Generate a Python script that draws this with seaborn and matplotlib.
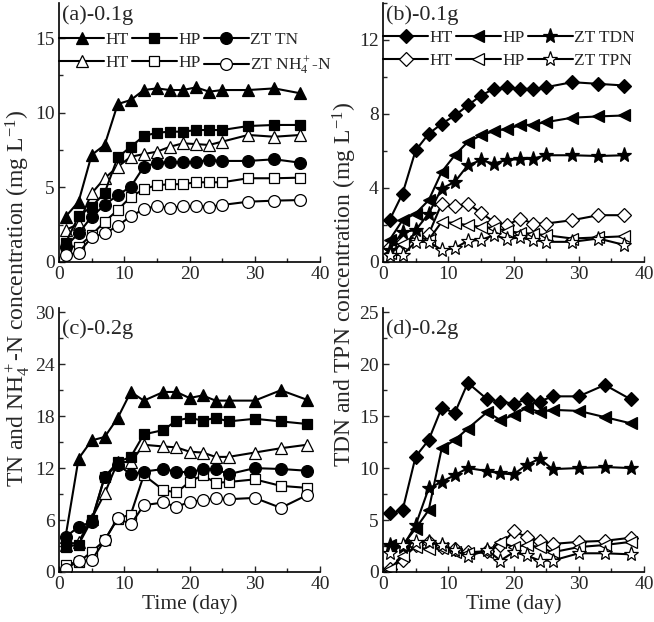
import numpy as np
import pandas as pd
import matplotlib
matplotlib.use("Agg")
import matplotlib.pyplot as plt
import seaborn as sns
from matplotlib.ticker import MultipleLocator

# ---------------- data ----------------
days_top = [1, 3, 5, 7, 9, 11, 13, 15, 17, 19, 21, 23, 25, 29, 33, 37]
days_bot = [1, 3, 5, 7, 9, 11, 13, 16, 18, 20, 22, 24, 26, 30, 34, 38]

# (a) 0.1 g : TN (filled) and NH4+-N (open)
a_ht_tn = [3.03, 4.04, 7.17, 7.84, 10.58, 10.85, 11.52, 11.63, 11.52, 11.52, 11.70, 11.41, 11.52, 11.52, 11.63, 11.30]
a_hp_tn = [1.25, 3.08, 3.70, 4.64, 7.01, 7.72, 8.44, 8.66, 8.73, 8.73, 8.84, 8.84, 8.84, 9.11, 9.18, 9.18]
a_zt_tn = [1.03, 1.92, 3.03, 3.82, 4.49, 5.04, 6.38, 6.65, 6.68, 6.68, 6.72, 6.83, 6.77, 6.77, 6.88, 6.65]
a_ht_nh = [2.14, 2.55, 4.60, 5.61, 6.38, 7.05, 7.23, 7.39, 7.72, 7.95, 7.90, 7.84, 8.06, 8.51, 8.39, 8.51]
a_hp_nh = [1.03, 1.03, 1.81, 2.70, 3.48, 4.37, 4.87, 5.16, 5.20, 5.22, 5.34, 5.34, 5.34, 5.61, 5.61, 5.65]
a_zt_nh = [0.47, 0.62, 1.65, 1.92, 2.41, 3.08, 3.53, 3.77, 3.60, 3.75, 3.75, 3.70, 3.82, 4.04, 4.11, 4.15]

# (b) 0.1 g : TDN (filled) and TPN (open)
b_ht_tdn = [2.26, 3.70, 6.03, 6.93, 7.47, 7.92, 8.46, 9.00, 9.36, 9.45, 9.36, 9.36, 9.45, 9.72, 9.63, 9.54]
b_hp_tdn = [1.19, 2.26, 2.62, 3.34, 4.87, 5.77, 6.49, 6.84, 7.08, 7.20, 7.38, 7.43, 7.56, 7.80, 7.87, 7.92]
b_zt_tdn = [0.65, 1.63, 1.72, 2.62, 3.97, 4.33, 5.23, 5.50, 5.32, 5.53, 5.55, 5.59, 5.77, 5.77, 5.73, 5.77]
b_ht_tpn = [0.80, 1.10, 1.30, 1.50, 3.16, 3.02, 3.16, 2.66, 2.17, 1.99, 2.35, 2.08, 2.08, 2.26, 2.53, 2.53]
b_hp_tpn = [0.50, 1.00, 1.40, 1.20, 2.17, 2.11, 1.99, 1.90, 1.84, 1.69, 1.57, 1.53, 1.45, 1.27, 1.33, 1.39]
b_zt_tpn = [0.38, 0.38, 1.09, 1.09, 0.65, 0.74, 1.15, 1.19, 1.45, 1.24, 1.33, 1.19, 1.09, 1.09, 1.27, 0.92]

# (c) 0.2 g : TN (filled) and NH4+-N (open)
c_ht_tn = [4.05, 13.1, 15.2, 15.6, 17.8, 20.8, 19.8, 20.8, 20.8, 20.1, 20.4, 19.8, 19.8, 19.8, 21.0, 19.9]
c_hp_tn = [2.89, 3.17, 5.98, 11.0, 12.7, 13.3, 15.9, 16.4, 17.5, 17.8, 17.5, 17.8, 17.4, 17.7, 17.4, 17.1]
c_zt_tn = [4.05, 5.21, 5.79, 11.0, 12.4, 11.3, 11.6, 11.9, 11.6, 11.5, 11.9, 11.9, 11.3, 12.0, 11.9, 11.7]
c_ht_nh = [3.09, 3.47, 6.18, 9.07, 12.7, 12.7, 14.7, 14.5, 14.4, 13.9, 13.8, 13.3, 13.3, 13.8, 14.3, 14.7]
c_hp_nh = [0.86, 1.16, 2.31, 3.67, 6.18, 6.64, 11.2, 9.46, 9.19, 10.4, 11.2, 10.3, 10.4, 10.7, 9.95, 9.72]
c_zt_nh = [0.39, 1.24, 1.35, 3.67, 6.25, 5.49, 7.72, 8.03, 7.52, 8.10, 8.30, 8.50, 8.41, 8.56, 7.41, 8.88]

# (d) 0.2 g : TDN (filled) and TPN (open)
d_ht_tdn = [5.63, 5.95, 11.1, 12.7, 15.8, 15.3, 18.2, 16.6, 16.4, 16.2, 16.6, 16.4, 16.9, 16.9, 18.0, 16.6]
d_hp_tdn = [2.64, 2.57, 4.18, 5.95, 11.9, 12.7, 13.8, 15.4, 14.6, 15.1, 15.8, 15.4, 15.6, 15.5, 14.9, 14.3]
d_zt_tdn = [2.57, 2.41, 4.50, 8.04, 8.68, 9.32, 10.0, 9.71, 9.49, 9.39, 10.3, 10.9, 9.9, 10.0, 10.1, 10.0]
d_ht_tpn = [0.3, 1.2, 2.6, 2.9, 2.4, 2.2, 1.9, 2.0, 2.6, 3.9, 3.4, 3.0, 2.7, 2.9, 3.0, 3.3]
d_hp_tpn = [0.3, 1.5, 2.4, 2.2, 2.3, 1.9, 1.8, 1.9, 2.9, 2.4, 2.6, 2.4, 1.9, 2.4, 2.6, 2.9]
d_zt_tpn = [1.8, 2.6, 2.9, 2.9, 2.6, 2.1, 1.5, 2.1, 1.1, 1.9, 1.6, 1.1, 1.1, 1.8, 1.8, 1.7]

names_tn = ["HT", "HP", "ZT TN"]
names_nh = ["HT", "HP", "ZT NH$_4^+$-N"]
names_tdn = ["HT", "HP", "ZT TDN"]
names_tpn = ["HT", "HP", "ZT TPN"]

panel_titles = ["(a)-0.1g", "(b)-0.1g", "(c)-0.2g", "(d)-0.2g"]

# ---------------- style ----------------
sns.set_theme(style="ticks")
plt.rcParams["font.family"] = ["Liberation Serif", "DejaVu Serif"]
plt.rcParams["mathtext.fontset"] = "custom"
plt.rcParams["mathtext.rm"] = "Liberation Serif"
plt.rcParams["mathtext.it"] = "Liberation Serif:italic"
plt.rcParams["mathtext.bf"] = "Liberation Serif:bold"
plt.rcParams["axes.unicode_minus"] = True

fig = plt.figure(figsize=(6.54, 6.22), dpi=100)
W, H = 654, 622

def ax_at(x0, x1, ytop, ybot):
    return fig.add_axes([x0 / W, 1 - ybot / H, (x1 - x0) / W, (ybot - ytop) / H])

ax_a = ax_at(59, 320, 3, 262)
ax_b = ax_at(383, 644, 3, 262)
ax_c = ax_at(59, 320, 308, 572)
ax_d = ax_at(383, 644, 308, 572)

mk_tn = ["^", "s", "o"]
mk_tdn = ["D", "<", "*"]
ms_tn = [8.5, 7.5, 8.5]
ms_tdn = [7.5, 9, 11]


def draw(ax, days, filled, opened, markers, sizes, lab_f, lab_o):
    handles = []
    for i in range(3):
        for series, fc, lab in ((filled[i], "black", lab_f[i]), (opened[i], "white", lab_o[i])):
            df = pd.DataFrame({"day": days, "val": series})
            n0 = len(ax.lines)
            sns.lineplot(data=df, x="day", y="val", ax=ax, color="black",
                         marker=markers[i], markersize=sizes[i],
                         markerfacecolor=fc, markeredgecolor="black",
                         markeredgewidth=0.9, linewidth=1.5,
                         legend=False, errorbar=None, sort=False)
            ln = ax.lines[n0]
            ln.set_label(lab)
            handles.append(ln)
    return handles


def style(ax, ymax, ymajor, title, ty):
    ax.set_xlim(0, 40)
    ax.set_ylim(0, ymax)
    ax.xaxis.set_major_locator(MultipleLocator(10))
    ax.xaxis.set_minor_locator(MultipleLocator(5))
    ax.yaxis.set_major_locator(MultipleLocator(ymajor))
    ax.yaxis.set_minor_locator(MultipleLocator(ymajor / 2))
    ax.tick_params(which="both", direction="in", labelsize=14, width=1.0,
                   top=False, right=False, pad=3)
    ax.tick_params(which="major", length=4)
    ax.tick_params(which="minor", length=3)
    ax.set_xlabel("")
    ax.set_ylabel("")
    for s in ("top", "right"):
        ax.spines[s].set_visible(False)
    for s in ("left", "bottom"):
        ax.spines[s].set_linewidth(1.2)
        ax.spines[s].set_color("black")
    ax.text(0.012, ty, title, transform=ax.transAxes, fontsize=16,
            ha="left", va="center")


h_a = draw(ax_a, days_top, [a_ht_tn, a_hp_tn, a_zt_tn], [a_ht_nh, a_hp_nh, a_zt_nh],
           mk_tn, ms_tn, names_tn, names_nh)
h_b = draw(ax_b, days_top, [b_ht_tdn, b_hp_tdn, b_zt_tdn], [b_ht_tpn, b_hp_tpn, b_zt_tpn],
           mk_tdn, ms_tdn, names_tdn, names_tpn)
draw(ax_c, days_bot, [c_ht_tn, c_hp_tn, c_zt_tn], [c_ht_nh, c_hp_nh, c_zt_nh],
     mk_tn, ms_tn, names_tn, names_nh)
draw(ax_d, days_bot, [d_ht_tdn, d_hp_tdn, d_zt_tdn], [d_ht_tpn, d_hp_tpn, d_zt_tpn],
     mk_tdn, ms_tdn, names_tdn, names_tpn)

style(ax_a, 17.35, 5, panel_titles[0], 0.953)
style(ax_b, 14.0, 4, panel_titles[1], 0.953)
style(ax_c, 30.5, 6, panel_titles[2], 0.92)
style(ax_d, 25.4, 5, panel_titles[3], 0.92)

for ax, hs, ytop in ((ax_a, h_a, 0.888), (ax_b, h_b, 0.897)):
    ax.legend(handles=hs, labels=[h.get_label() for h in hs], ncol=3,
              loc="upper left", bbox_to_anchor=(0.0, ytop), frameon=False,
              fontsize=12.5, handlelength=2.6, handletextpad=0.1,
              columnspacing=0.15, labelspacing=0.38, borderpad=0,
              borderaxespad=0)

ax_c.set_xlabel("Time (day)", fontsize=15.5, labelpad=1)
ax_d.set_xlabel("Time (day)", fontsize=15.5, labelpad=1)

fig.text(0.027, 0.52, "TN and NH$_4^+$-N concentration (mg L$^{-1}$)",
         rotation=90, fontsize=17, ha="center", va="center")
fig.text(0.528, 0.542, "TDN and TPN concentration (mg L$^{-1}$)",
         rotation=90, fontsize=17, ha="center", va="center")

fig.savefig("out.png", dpi=100)
